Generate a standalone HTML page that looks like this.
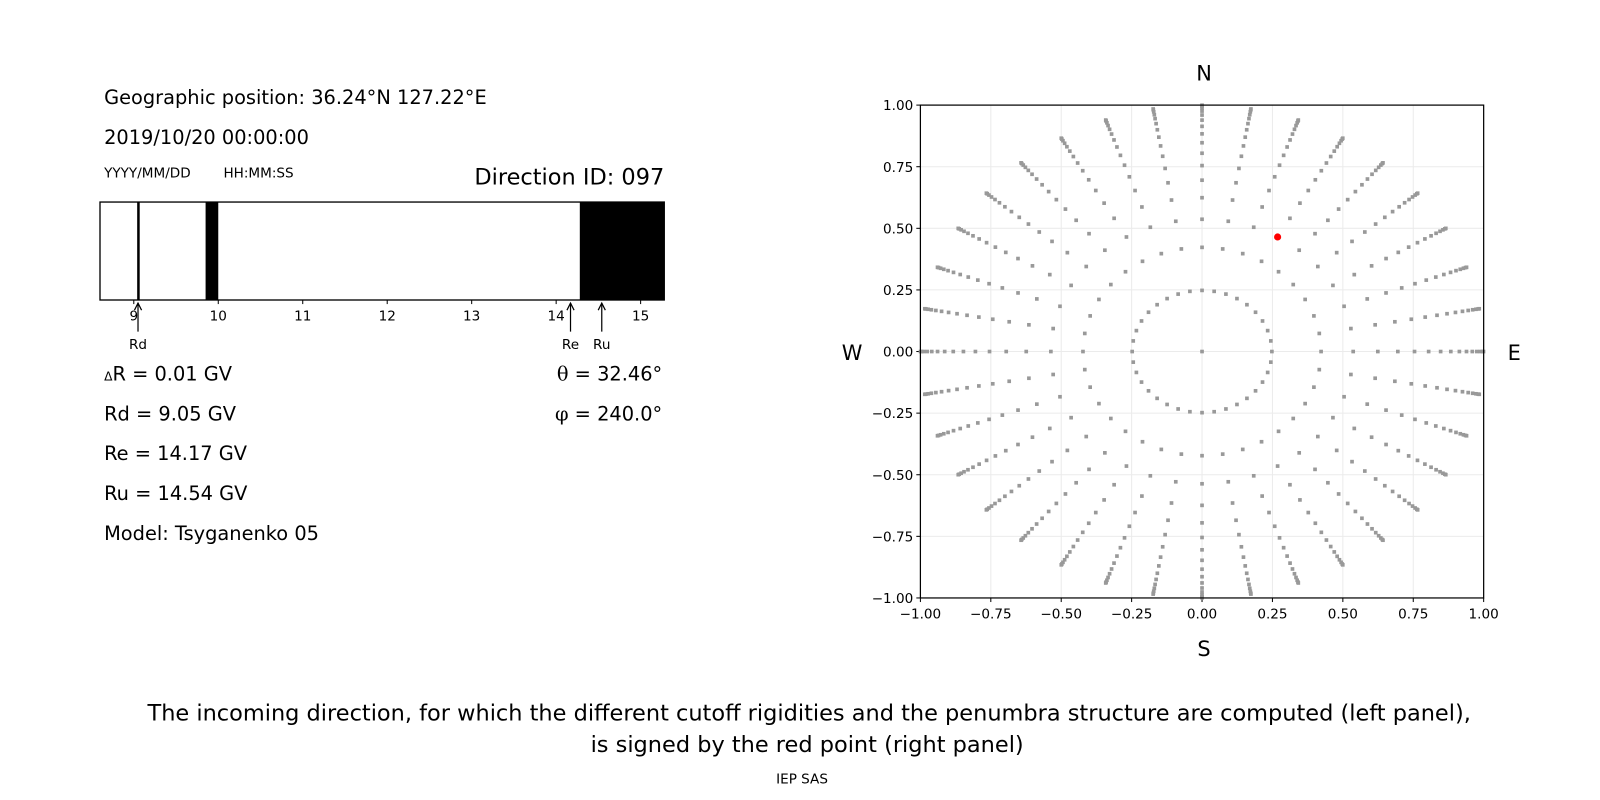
<!DOCTYPE html>
<html><head><meta charset="utf-8">
<style>
body{margin:0;background:#fff;width:1600px;height:800px;overflow:hidden;font-family:"DejaVu Sans","Liberation Sans",sans-serif;}
svg{position:absolute;left:0;top:0}
text{font-family:"DejaVu Sans","Liberation Sans",sans-serif;fill:#000}
</style></head>
<body>
<svg width="1600" height="800">
<g id="s" transform="scale(1.0204)">
<g>
<text x="102" y="102" font-size="19">Geographic position: 36.24°N 127.22°E</text>
<text x="102" y="141" font-size="19">2019/10/20 00:00:00</text>
<text x="102" y="174" font-size="13.3">YYYY/MM/DD</text>
<text x="219" y="174" font-size="13.3">HH:MM:SS</text>
<text x="651" y="181" font-size="22" text-anchor="end">Direction ID: 097</text>
<g id="bar"></g>
<text x="102" y="373" font-size="19"><tspan font-size="12">Δ</tspan>R = 0.01 GV</text>
<text x="102" y="412" font-size="19">Rd = 9.05 GV</text>
<text x="102" y="451" font-size="19">Re = 14.17 GV</text>
<text x="102" y="490" font-size="19">Ru = 14.54 GV</text>
<text x="102" y="529" font-size="19">Model: Tsyganenko 05</text>
<text x="649" y="373" font-size="19" text-anchor="end"><tspan font-family="DejaVu Serif, serif">θ</tspan> = 32.46°</text>
<text x="649" y="412" font-size="19" text-anchor="end"><tspan font-family="DejaVu Serif, serif">φ</tspan> = 240.0°</text>
</g>
<g id="right">
<text x="1180" y="79" font-size="20.5" text-anchor="middle">N</text>
<text x="1180" y="643" font-size="20.5" text-anchor="middle">S</text>
<text x="835" y="353" font-size="20.5" text-anchor="middle">W</text>
<text x="1484" y="353" font-size="20.5" text-anchor="middle">E</text>
</g>
<text x="793" y="706" font-size="22" text-anchor="middle">The incoming direction, for which the different cutoff rigidities and the penumbra structure are computed (left panel),</text>
<text x="791" y="737" font-size="22" text-anchor="middle">is signed by the red point (right panel)</text>
<text x="786" y="768" font-size="13.3" text-anchor="middle">IEP SAS</text>
</g>
</svg>
<script>
// Left bar data
const barTicks = [9,10,11,12,13,14,15];
const blackBands = [[9.04,9.07],[9.85,10.0],[14.28,15.3]];
const cutoffNames = ["Rd","Re","Ru"];
const cutoffValues = [9.05,14.17,14.54];
// Right plot data
const ringCos = [0.96875,0.90625,0.84375,0.78125,0.71875,0.65625,0.59375,0.53125,0.46875,0.40625,0.34375,0.28125,0.21875,0.15625,0.09375,0.03125];
const azimuths = [0,10,20,30,40,50,60,70,80,90,100,110,120,130,140,150,160,170,180,190,200,210,220,230,240,250,260,270,280,290,300,310,320,330,340,350];
const axisTicks = [-1,-0.75,-0.5,-0.25,0,0.25,0.5,0.75,1];
const axisTickLabels = ["−1.00","−0.75","−0.50","−0.25","0.00","0.25","0.50","0.75","1.00"];
const selTheta = 32.46;
const selPhi = 240.0;

const NS="http://www.w3.org/2000/svg";
function mk(t,a,p){const e=document.createElementNS(NS,t);for(const k in a)e.setAttribute(k,a[k]);p.appendChild(e);return e;}

// bar
const bar=document.getElementById('bar');
const bx0=98,bx1=651,by0=198,by1=294,rMin=8.6,rMax=15.28;
const bxs=v=>bx0+(v-rMin)/(rMax-rMin)*(bx1-bx0);
blackBands.forEach(b=>{
  const x0=Math.max(bx0,bxs(b[0])),x1=Math.min(bx1,bxs(b[1]));
  const r=mk('rect',{x:x0,y:by0,width:x1-x0,height:by1-by0,fill:'#000'},bar);
  
  
});
const fr=mk('rect',{x:bx0,y:by0,width:bx1-bx0,height:by1-by0,fill:'none',stroke:'#000','stroke-width':1.3},bar);


barTicks.forEach(t=>{
  const x=bxs(t);
  mk('line',{x1:x,x2:x,y1:by1,y2:by1+4,stroke:'#000'},bar);
  const tx=mk('text',{x:x,y:by1+20,'font-size':13.3,'text-anchor':'middle'},bar);
  tx.textContent=t;
  
  
});
cutoffValues.forEach((v,i)=>{
  const x=bxs(v);
  const g=mk('g',{},bar);
  
  
  mk('line',{x1:x,x2:x,y1:by1+3,y2:by1+31,stroke:'#000','stroke-width':1.2},g);
  mk('path',{d:`M${x-3.5},${by1+10} L${x},${by1+3} L${x+3.5},${by1+10}`,fill:'none',stroke:'#000','stroke-width':1.2},g);
  const t=mk('text',{x:x,y:by1+48,'font-size':13.3,'text-anchor':'middle'},g);
  t.textContent=cutoffNames[i];
});

// right plot
const R=document.getElementById('right');
const px0=902,px1=1454,py0=103,py1=586;
const sx=v=>px0+(v+1)/2*(px1-px0);
const sy=v=>py1-(v+1)/2*(py1-py0);
axisTicks.forEach((t,i)=>{
  mk('line',{x1:sx(t),x2:sx(t),y1:py0,y2:py1,stroke:'#ebebeb','stroke-width':1},R);
  mk('line',{x1:px0,x2:px1,y1:sy(t),y2:sy(t),stroke:'#ebebeb','stroke-width':1},R);
  mk('line',{x1:sx(t),x2:sx(t),y1:py1,y2:py1+4,stroke:'#000'},R);
  mk('line',{x1:px0-4,x2:px0,y1:sy(t),y2:sy(t),stroke:'#000'},R);
  const a=mk('text',{x:sx(t),y:py1+20,'font-size':13.3,'text-anchor':'middle'},R);
  a.textContent=axisTickLabels[i];
  
  
  const b=mk('text',{x:px0-7,y:sy(t)+5,'font-size':13.3,'text-anchor':'end'},R);
  b.textContent=axisTickLabels[i];
  
  
});
const pts=mk('g',{fill:'#999'},R);


mk('rect',{x:sx(0)-1.8,y:sy(0)-1.8,width:3.6,height:3.6},pts);
ringCos.forEach(c=>{
  const r=Math.sqrt(1-c*c);
  azimuths.forEach(a=>{
    const ang=a*Math.PI/180;
    const x=r*Math.sin(ang),y=r*Math.cos(ang);
    mk('rect',{x:sx(x)-1.8,y:sy(y)-1.8,width:3.6,height:3.6},pts);
  });
});
const ax=mk('rect',{x:px0,y:py0,width:px1-px0,height:py1-py0,fill:'none',stroke:'#000','stroke-width':1.2},R);


const rr=Math.sin(selTheta*Math.PI/180),pa=(selPhi-180)*Math.PI/180;
const red=mk('circle',{cx:sx(rr*Math.cos(pa)),cy:sy(rr*Math.sin(pa)),r:3.5,fill:'#ff0000'},R);


</script>
</body></html>
